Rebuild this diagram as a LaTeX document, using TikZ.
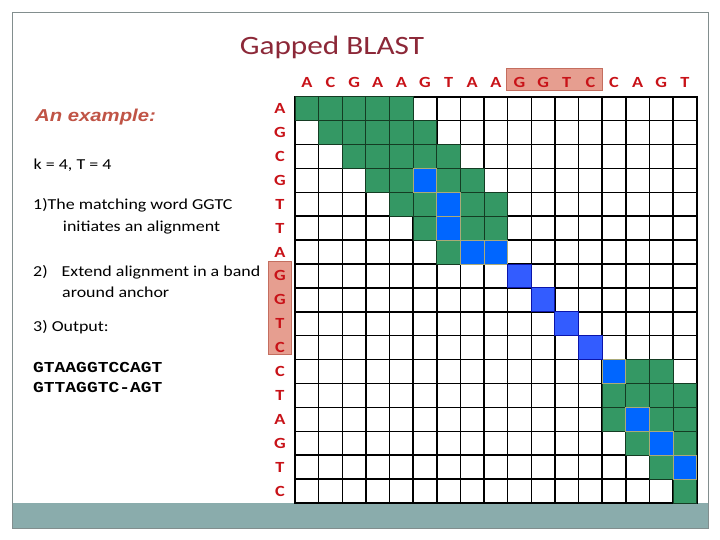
\documentclass[tikz,border=0pt]{standalone}
\usepackage{fontspec}
\setmainfont{Carlito}[FakeStretch=1.18]
\newfontfamily\examplefont{Liberation Sans}[FakeStretch=1.18]
\newfontfamily\seqfont{Liberation Mono}[FakeStretch=1.18]
\usepackage{tikz}
\usetikzlibrary{positioning}
\definecolor{mytitle}{RGB}{140,40,56}
\definecolor{myred}{RGB}{200,18,24}
\definecolor{myexample}{RGB}{192,84,70}
\definecolor{mygreen}{RGB}{52,152,100}
\definecolor{mygreendark}{RGB}{20,60,35}
\definecolor{myblue}{RGB}{0,102,255}
\definecolor{mykhaki}{RGB}{170,170,120}
\definecolor{mydiag}{RGB}{51,92,255}
\definecolor{mydiagedge}{RGB}{10,20,170}
\definecolor{myhilite}{RGB}{230,158,144}
\definecolor{myhiliteedge}{RGB}{196,110,95}
\definecolor{myband}{RGB}{138,172,172}
\definecolor{myframe}{RGB}{130,142,142}
\tikzset{
  titletext/.style={font=\fontsize{26.5}{30}\selectfont, text=mytitle, inner sep=0pt},
  bodytext/.style={font=\fontsize{15.2}{21}\selectfont, anchor=base west, inner sep=0pt},
  seqtext/.style={font=\seqfont\bfseries\fontsize{15.2}{20}\selectfont, anchor=base west, inner sep=0pt},
  baselabel/.style={font=\bfseries\fontsize{15.5}{18}\selectfont, text=myred, inner sep=0pt},
  greencell/.style={fill=mygreen, draw=mygreendark, line width=0.8pt},
  anchorcell/.style={fill=myblue, draw=mykhaki, line width=0.7pt},
  diagcell/.style={fill=mydiag, draw=mydiagedge, line width=0.9pt},
  hilite/.style={fill=myhilite, draw=myhiliteedge, line width=0.6pt},
  gridline/.style={line width=1.5pt, color=black}
}
\begin{document}
\begin{tikzpicture}[x=1pt, y=-1pt]
  \useasboundingbox (0,0) rectangle (720,540);
  \fill[white] (0,0) rectangle (720,540);

  % slide frame and footer band
  \fill[myband] (12,503) rectangle (708,528);
  \draw[myframe, line width=0.8pt] (12,12.7) rectangle (708,528);

  \node[titletext, anchor=base] (title) at (332,55) {Gapped BLAST};

  % left column text
  \node[font=\examplefont\bfseries\itshape\fontsize{17.2}{20}\selectfont, text=myexample, anchor=base west, inner sep=0pt] (example) at (35,121.7) {An example:};
  \node[bodytext] (params) at (33.5,170) {k = 4, T = 4};
  \node[bodytext] (step1) at (33,210) {1)The matching word GGTC};
  \node[bodytext] (step1b) at (62.7,231.7) {initiates an alignment};
  \node[bodytext] (step2) at (33,276.7) {2)\hspace{14pt}Extend alignment in a band};
  \node[bodytext] (step2b) at (62,297.3) {around anchor};
  \node[bodytext] (step3) at (33,331.7) {3) Output:};
  \node[seqtext] (seqa) at (33,372.7) {GTAAGGTCCAGT};
  \node[seqtext] (seqb) at (33,392.7) {GTTAGGTC-AGT};

  % matching word highlights
  \draw[hilite] (506.7,68.3) rectangle (602.7,90.7);
  \draw[hilite] (268.3,261.7) rectangle (291.7,354.3);

  % sequence letters
  \foreach \s [count=\i from 0] in {A,C,G,A,A,G,T,A,A,G,G,T,C,C,A,G,T}
    \node[baselabel] (top\i) at ({295+(\i+0.5)*23.63},82.7) {\s};
  \foreach \s [count=\i from 0] in {A,G,C,G,T,T,A,G,G,T,C,C,T,A,G,T,C}
    \node[baselabel] (side\i) at (280,{96.7+(\i+0.5)*23.9}) {\s};

  % dot matrix
  \foreach \c in {0,...,17}
    \draw[gridline] ({295+\c*23.63},96.7) -- ({295+\c*23.63},503);
  \foreach \r in {0,...,17}
    \draw[gridline] (295,{96.7+\r*23.9}) -- (696.7,{96.7+\r*23.9});
  \draw[line width=2.2pt] (295,96.7) rectangle (696.7,503);

  % band cells
  \foreach \c/\r in {0/0,1/0,2/0,3/0,4/0, 1/1,2/1,3/1,4/1,5/1, 2/2,3/2,4/2,5/2,6/2,
      3/3,4/3,6/3,7/3, 4/4,5/4,7/4,8/4, 5/5,7/5,8/5, 6/6,
      14/11,15/11, 13/12,14/12,15/12,16/12, 13/13,15/13,16/13, 14/14,16/14, 15/15, 16/16}
    \draw[greencell] ({295+\c*23.63},{96.7+\r*23.9}) rectangle ++(23.63,23.9);
  \foreach \c/\r in {5/3,6/4,6/5,7/6,8/6,13/11,14/13,15/14,16/15}
    \draw[anchorcell] ({295+\c*23.63},{96.7+\r*23.9}) rectangle ++(23.63,23.9);
  \foreach \c/\r in {9/7,10/8,11/9,12/10}
    \draw[diagcell] ({295+\c*23.63},{96.7+\r*23.9}) rectangle ++(23.63,23.9);
\end{tikzpicture}
\end{document}
